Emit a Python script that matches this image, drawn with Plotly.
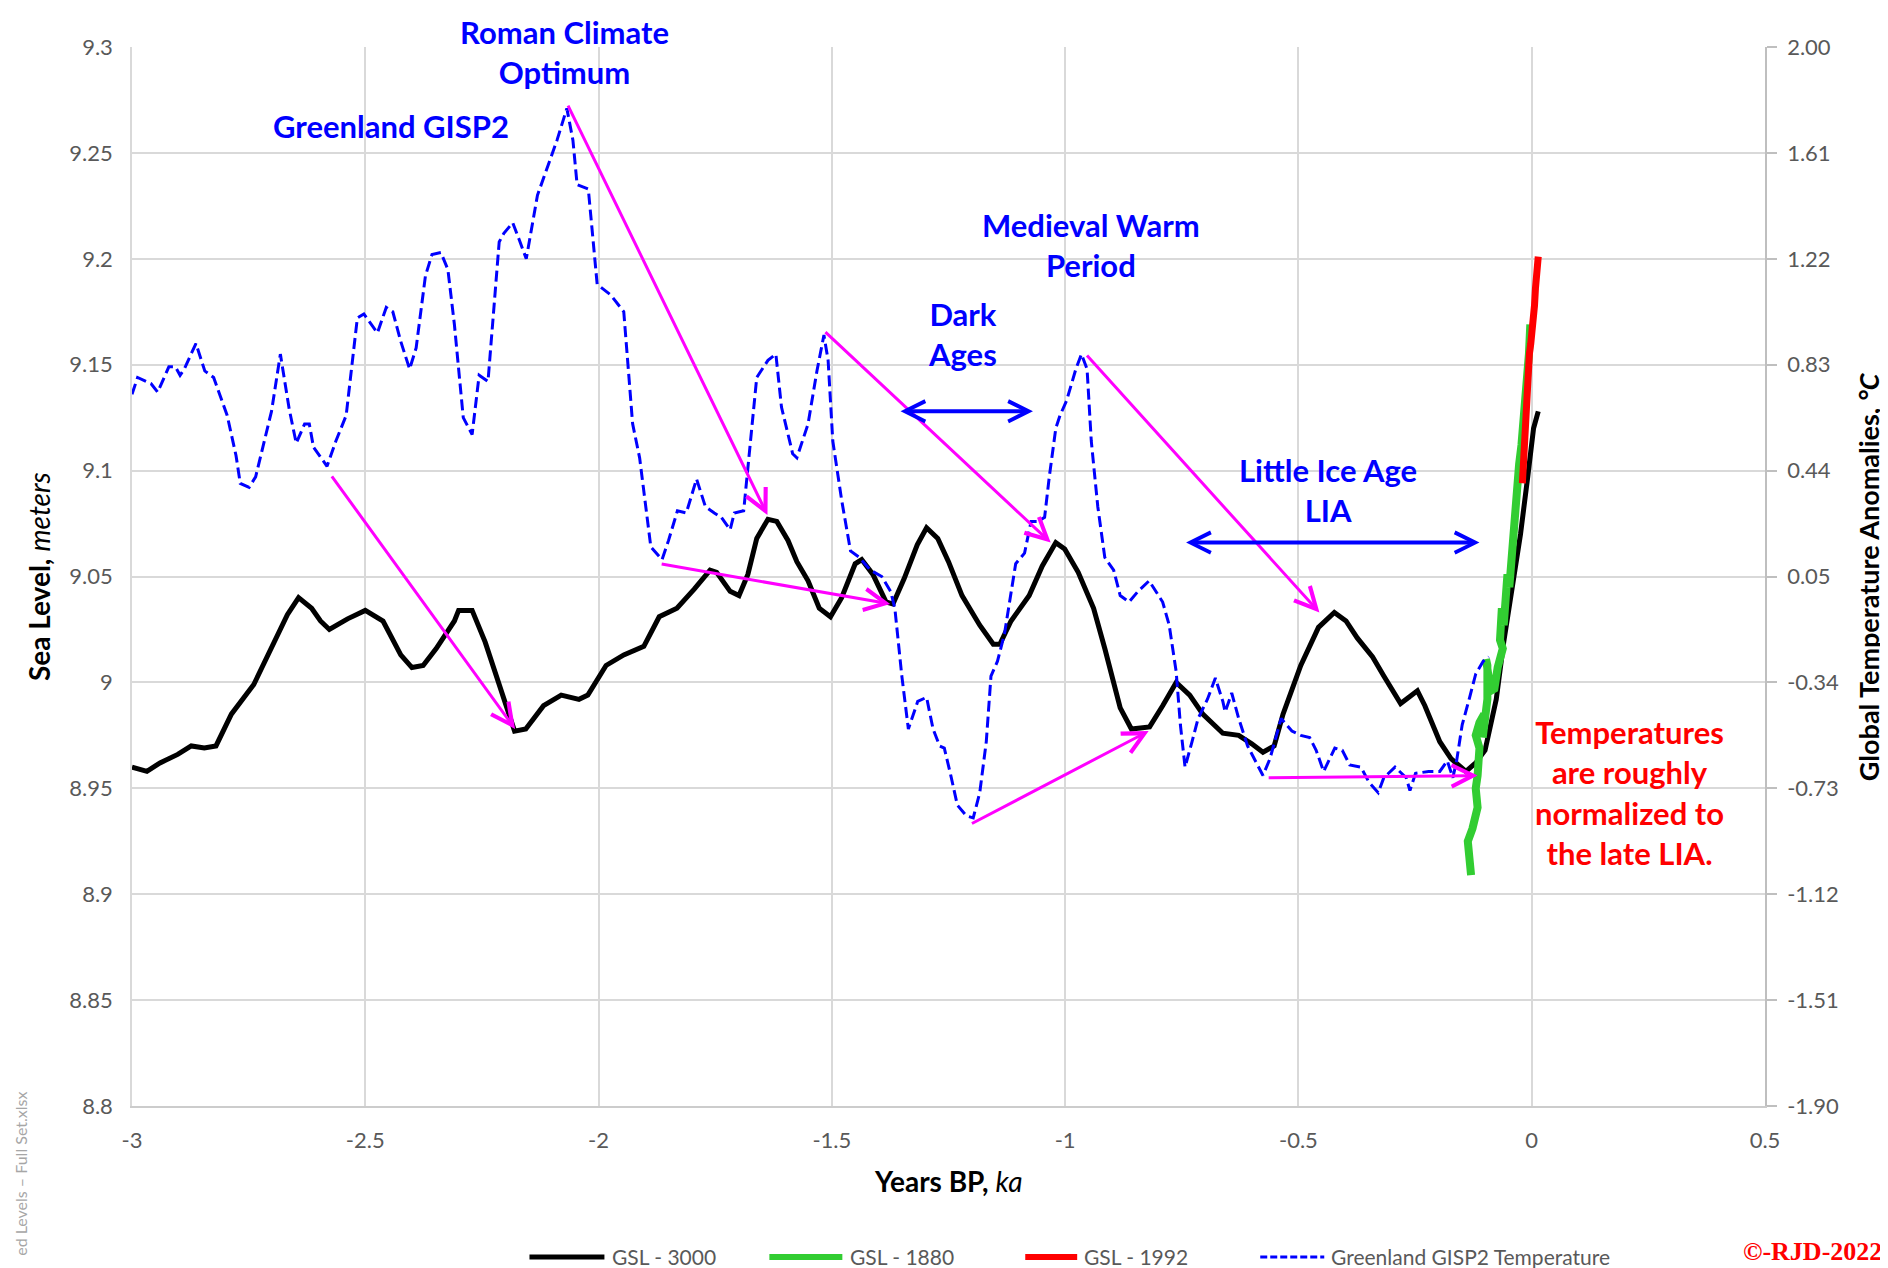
import plotly.graph_objects as go

# ---------------- data ----------------
# GSL - 3000 (sea level, m) vs years BP (ka)
gsl3000_x = [-3.000, -2.968, -2.940, -2.902, -2.873, -2.845, -2.820, -2.787, -2.739, -2.701,
             -2.667, -2.643, -2.615, -2.596, -2.577, -2.538, -2.500, -2.462, -2.424, -2.400,
             -2.376, -2.348, -2.309, -2.300, -2.271, -2.243, -2.214, -2.180, -2.156, -2.118,
             -2.080, -2.042, -2.023, -1.984, -1.946, -1.903, -1.870, -1.832, -1.795, -1.761,
             -1.747, -1.718, -1.699, -1.680, -1.661, -1.637, -1.618, -1.594, -1.575, -1.551,
             -1.527, -1.503, -1.479, -1.450, -1.436, -1.412, -1.384, -1.369, -1.345, -1.317,
             -1.297, -1.273, -1.250, -1.221, -1.183, -1.154, -1.140, -1.116, -1.077, -1.049,
             -1.020, -1.001, -0.972, -0.939, -0.915, -0.882, -0.858, -0.819, -0.791, -0.762,
             -0.733, -0.705, -0.662, -0.628, -0.600, -0.576, -0.552, -0.533, -0.495, -0.457,
             -0.423, -0.398, -0.374, -0.341, -0.317, -0.281, -0.245, -0.229, -0.197, -0.173,
             -0.141, -0.120, -0.100, -0.076, -0.060, -0.040, -0.024, -0.008, 0.004, 0.014]
gsl3000_y = [8.960, 8.958, 8.962, 8.966, 8.970, 8.969, 8.970, 8.985, 8.999, 9.016,
             9.032, 9.040, 9.035, 9.029, 9.025, 9.030, 9.034, 9.029, 9.013, 9.007,
             9.008, 9.016, 9.029, 9.034, 9.034, 9.019, 9.000, 8.977, 8.978, 8.989,
             8.994, 8.992, 8.994, 9.008, 9.013, 9.017, 9.031, 9.035, 9.044, 9.053,
             9.052, 9.043, 9.041, 9.051, 9.068, 9.077, 9.076, 9.067, 9.057, 9.048,
             9.035, 9.031, 9.040, 9.056, 9.058, 9.051, 9.038, 9.037, 9.049, 9.065,
             9.073, 9.068, 9.057, 9.041, 9.027, 9.018, 9.018, 9.029, 9.041, 9.055,
             9.066, 9.063, 9.052, 9.035, 9.016, 8.988, 8.978, 8.979, 8.989, 9.000,
             8.994, 8.985, 8.976, 8.975, 8.971, 8.967, 8.970, 8.985, 9.008, 9.026,
             9.033, 9.029, 9.021, 9.012, 9.003, 8.990, 8.996, 8.989, 8.972, 8.964,
             8.958, 8.962, 8.968, 8.992, 9.019, 9.047, 9.070, 9.098, 9.120, 9.128]

# GSL - 1880 (sea level, m)
gsl1880_x = [-0.130, -0.134, -0.137, -0.127, -0.123, -0.116, -0.120, -0.116, -0.112, -0.120,
             -0.112, -0.102, -0.105, -0.095, -0.095, -0.098, -0.088, -0.080, -0.073, -0.062,
             -0.068, -0.064, -0.060, -0.052, -0.048, -0.040, -0.036, -0.032, -0.027, -0.022,
             -0.018, -0.014, -0.010, -0.006, -0.003]
gsl1880_y = [8.909, 8.922, 8.925, 8.931, 8.937, 8.941, 8.950, 8.956, 8.969, 8.975,
             8.981, 8.985, 8.974, 8.992, 9.008, 9.011, 8.996, 8.997, 9.007, 9.016,
             9.020, 9.035, 9.027, 9.051, 9.045, 9.070, 9.083, 9.098, 9.103, 9.112,
             9.122, 9.130, 9.142, 9.155, 9.169]

# GSL - 1992 (sea level, m)
gsl1992_x = [-0.020, -0.017, -0.013, -0.011, -0.008, -0.005, -0.002, 0.001, 0.004, 0.006,
             0.008, 0.010, 0.012, 0.014]
gsl1992_y = [9.094, 9.108, 9.122, 9.135, 9.145, 9.155, 9.160, 9.165, 9.172, 9.178,
             9.186, 9.190, 9.198, 9.201]

# Greenland GISP2 temperature anomaly (deg C)
gisp2_x = [-3.000, -2.988, -2.959, -2.945, -2.921, -2.907, -2.897, -2.888, -2.863, -2.844,
           -2.825, -2.796, -2.777, -2.768, -2.749, -2.735, -2.701, -2.682, -2.663, -2.648,
           -2.630, -2.620, -2.611, -2.582, -2.563, -2.541, -2.517, -2.503, -2.474, -2.455,
           -2.441, -2.424, -2.405, -2.391, -2.371, -2.357, -2.338, -2.323, -2.309, -2.290,
           -2.271, -2.256, -2.237, -2.213, -2.203, -2.184, -2.170, -2.155, -2.131, -2.108,
           -2.089, -2.068, -2.055, -2.046, -2.022, -2.003, -1.974, -1.946, -1.927, -1.912,
           -1.888, -1.864, -1.850, -1.831, -1.812, -1.790, -1.771, -1.752, -1.737, -1.718,
           -1.709, -1.689, -1.661, -1.637, -1.620, -1.608, -1.584, -1.575, -1.551, -1.532,
           -1.517, -1.508, -1.498, -1.479, -1.460, -1.441, -1.417, -1.393, -1.374, -1.365,
           -1.350, -1.336, -1.316, -1.297, -1.283, -1.269, -1.259, -1.245, -1.231, -1.212,
           -1.197, -1.183, -1.169, -1.159, -1.145, -1.130, -1.116, -1.106, -1.087, -1.073,
           -1.058, -1.044, -1.034, -1.020, -1.011, -0.997, -0.977, -0.965, -0.953, -0.944,
           -0.930, -0.915, -0.896, -0.882, -0.863, -0.844, -0.820, -0.791, -0.777, -0.762,
           -0.753, -0.743, -0.728, -0.715, -0.695, -0.678, -0.662, -0.657, -0.643, -0.628,
           -0.609, -0.590, -0.576, -0.561, -0.537, -0.514, -0.495, -0.476, -0.462, -0.446,
           -0.422, -0.406, -0.390, -0.366, -0.349, -0.329, -0.317, -0.293, -0.269, -0.261,
           -0.249, -0.221, -0.197, -0.181, -0.169, -0.161, -0.149, -0.133, -0.120, -0.104,
           -0.092]
gisp2_t = [0.721, 0.783, 0.760, 0.729, 0.822, 0.822, 0.791, 0.814, 0.908, 0.807,
           0.783, 0.643, 0.495, 0.393, 0.378, 0.417, 0.658, 0.869, 0.666, 0.541,
           0.612, 0.612, 0.526, 0.456, 0.549, 0.643, 1.002, 1.017, 0.947, 1.041,
           1.025, 0.916, 0.814, 0.892, 1.158, 1.236, 1.243, 1.181, 0.978, 0.635,
           0.573, 0.791, 0.768, 1.282, 1.314, 1.353, 1.290, 1.220, 1.454, 1.563,
           1.657, 1.774, 1.657, 1.493, 1.477, 1.126, 1.087, 1.025, 0.612, 0.487,
           0.159, 0.112, 0.183, 0.292, 0.284, 0.409, 0.307, 0.284, 0.268, 0.222,
           0.284, 0.292, 0.783, 0.846, 0.869, 0.674, 0.502, 0.487, 0.612, 0.807,
           0.939, 0.846, 0.549, 0.331, 0.144, 0.120, 0.073, 0.050, -0.005, -0.067,
           -0.317, -0.512, -0.410, -0.395, -0.512, -0.574, -0.582, -0.683, -0.792, -0.831,
           -0.839, -0.746, -0.558, -0.317, -0.262, -0.161, -0.020, 0.097, 0.136, 0.253,
           0.253, 0.268, 0.417, 0.596, 0.643, 0.697, 0.814, 0.869, 0.814, 0.549,
           0.307, 0.120, 0.073, -0.020, -0.044, -0.005, 0.034, -0.044, -0.129, -0.301,
           -0.496, -0.652, -0.558, -0.473, -0.402, -0.324, -0.410, -0.449, -0.379, -0.473,
           -0.574, -0.636, -0.683, -0.621, -0.473, -0.519, -0.535, -0.543, -0.590, -0.668,
           -0.582, -0.590, -0.644, -0.652, -0.707, -0.746, -0.691, -0.652, -0.691, -0.738,
           -0.675, -0.668, -0.668, -0.629, -0.691, -0.629, -0.496, -0.395, -0.309, -0.262,
           -0.246]

series_names = ["GSL - 3000", "GSL - 1880", "GSL - 1992", "Greenland GISP2 Temperature"]

# axis ticks
x_tickvals = [-3, -2.5, -2, -1.5, -1, -0.5, 0, 0.5]
x_ticktext = ["-3", "-2.5", "-2", "-1.5", "-1", "-0.5", "0", "0.5"]
y_tickvals = [8.8, 8.85, 8.9, 8.95, 9.0, 9.05, 9.1, 9.15, 9.2, 9.25, 9.3]
y_ticktext = ["8.8", "8.85", "8.9", "8.95", "9", "9.05", "9.1", "9.15", "9.2", "9.25", "9.3"]
y2_tickvals = [-1.90, -1.51, -1.12, -0.73, -0.34, 0.05, 0.44, 0.83, 1.22, 1.61, 2.00]
y2_ticktext = ["-1.90", "-1.51", "-1.12", "-0.73", "-0.34", "0.05", "0.44", "0.83", "1.22", "1.61", "2.00"]

# text labels (blue period names, red note)
period_labels = ["Roman Climate<br>Optimum", "Greenland GISP2", "Medieval Warm<br>Period",
                 "Dark<br>Ages", "Little Ice Age<br>LIA"]
period_label_x = [-2.072, -2.445, -0.945, -1.219, -0.437]
period_label_y = [9.2993, 9.2611, 9.2049, 9.1629, 9.0895]
period_label_shift = [-4, 3, 3, 3, 3]
note_text = "Temperatures<br>are roughly<br>normalized to<br>the late LIA."
note_x, note_y = 0.2095, 8.9464

# magenta arrows: tail -> head (x ka, sea level m)
arrow_tail_x = [-2.574, -2.067, -1.868, -1.517, -0.956, -1.203, -0.567]
arrow_tail_y = [9.098, 9.273, 9.056, 9.166, 9.155, 8.933, 8.955]
arrow_head_x = [-2.179, -1.638, -1.375, -1.031, -0.455, -0.821, -0.116]
arrow_head_y = [8.978, 9.079, 9.037, 9.066, 9.033, 8.977, 8.956]

# blue double-headed period arrows
span_x0 = [-1.356, -0.744]
span_x1 = [-1.069, -0.112]
span_y = [9.128, 9.066]

FONT = "Lato, 'Open Sans', sans-serif"
GRAY = "#595959"
GRID = "#d9d9d9"

line_styles = [dict(color="black", width=5),
               dict(color="#32CD32", width=8),
               dict(color="#FF0000", width=7),
               dict(color="#0000FF", width=3, dash="11px,5px")]

fig = go.Figure()
fig.add_trace(go.Scatter(x=gsl3000_x, y=gsl3000_y, mode="lines", name=series_names[0],
                         line=line_styles[0], showlegend=False))
fig.add_trace(go.Scatter(x=gsl1880_x, y=gsl1880_y, mode="lines", name=series_names[1],
                         line=line_styles[1], showlegend=False))
fig.add_trace(go.Scatter(x=gsl1992_x, y=gsl1992_y, mode="lines", name=series_names[2],
                         line=line_styles[2], showlegend=False))
fig.add_trace(go.Scatter(x=gisp2_x, y=gisp2_t, mode="lines", name=series_names[3], yaxis="y2",
                         line=line_styles[3], showlegend=False))

annotations = []
for txt, ax_, ay_, ys in zip(period_labels, period_label_x, period_label_y, period_label_shift):
    annotations.append(dict(x=ax_, y=ay_, xref="x", yref="y", text="<b>" + txt + "</b>",
                            showarrow=False, font=dict(family=FONT, size=31, color="#0000FF"),
                            align="center", xanchor="center", yanchor="middle", yshift=ys))
annotations.append(dict(x=note_x, y=note_y, xref="x", yref="y", text="<b>" + note_text + "</b>",
                        showarrow=False, font=dict(family=FONT, size=31, color="#FF0000"),
                        align="center", xanchor="center", yanchor="middle", yshift=3))
for tx, ty, hx, hy in zip(arrow_tail_x, arrow_tail_y, arrow_head_x, arrow_head_y):
    annotations.append(dict(x=hx, y=hy, ax=tx, ay=ty, xref="x", yref="y", axref="x", ayref="y",
                            text="", showarrow=True, arrowhead=5, arrowsize=1.4, arrowwidth=3,
                            arrowcolor="#FF00FF", standoff=0, startstandoff=0))
for x0, x1, yy in zip(span_x0, span_x1, span_y):
    annotations.append(dict(x=x1, y=yy, ax=x0, ay=yy, xref="x", yref="y", axref="x", ayref="y",
                            text="", showarrow=True, arrowhead=5, startarrowhead=5,
                            arrowside="end+start", arrowsize=1.0, startarrowsize=1.0,
                            arrowwidth=4, arrowcolor="#0000FF", standoff=0, startstandoff=0))

# axis titles
annotations.append(dict(x=-0.0572, y=0.5, xref="paper", yref="paper", textangle=-90,
                        xanchor="center", yanchor="middle",
                        text="<b>Sea Level,</b> <i>meters</i>", showarrow=False,
                        font=dict(family=FONT, size=28, color="black")))
annotations.append(dict(x=0.5, y=-0.071, xref="paper", yref="paper",
                        xanchor="center", yanchor="middle",
                        text="<b>Years BP,</b> <i>ka</i>", showarrow=False,
                        font=dict(family=FONT, size=28, color="black")))
annotations.append(dict(x=1.0635, y=0.5, xref="paper", yref="paper", textangle=-90,
                        xanchor="center", yanchor="middle",
                        text="<b>Global Temperature Anomalies, <i>°C</i></b>", showarrow=False,
                        font=dict(family=FONT, size=27, color="black")))
# copyright and file watermark
annotations.append(dict(x=1.029, y=-0.1375, xref="paper", yref="paper",
                        xanchor="center", yanchor="middle",
                        text="<b>©-RJD-2022</b>", showarrow=False,
                        font=dict(family="'Liberation Serif', 'Times New Roman', serif", size=26,
                                  color="#FF0000")))
annotations.append(dict(x=-0.0683, y=-0.0636, xref="paper", yref="paper", textangle=-90,
                        xanchor="center", yanchor="middle",
                        text="ed Levels – Full Set.xlsx", showarrow=False,
                        font=dict(family=FONT, size=16, color="#a6a6a6")))

# manual legend row (line samples + labels), paper coordinates
legend_y = -0.1425
legend_line_x0 = [0.2434, 0.3903, 0.5470, 0.6909]
legend_line_x1 = [0.2893, 0.4350, 0.5788, 0.7301]
legend_text_x = [0.2925, 0.4386, 0.5819, 0.7331]
shapes = []
for x0, x1, tx, st, nm in zip(legend_line_x0, legend_line_x1, legend_text_x, line_styles, series_names):
    ln = dict(color=st["color"], width=min(st["width"], 6))
    if "dash" in st:
        ln["dash"] = "7px,3px"
    shapes.append(dict(type="line", xref="paper", yref="paper", x0=x0, x1=x1,
                       y0=legend_y, y1=legend_y, line=ln))
    annotations.append(dict(x=tx, y=legend_y, xref="paper", yref="paper", text=nm,
                            showarrow=False, xanchor="left", yanchor="middle",
                            font=dict(family=FONT, size=21, color=GRAY)))

fig.update_layout(
    width=1888, height=1268,
    margin=dict(l=123.5, r=131, t=38.6, b=170.4, autoexpand=False),
    paper_bgcolor="white", plot_bgcolor="white",
    font=dict(family=FONT, size=22, color=GRAY),
    showlegend=False,
    annotations=annotations,
    shapes=shapes,
    xaxis=dict(range=[-3, 0.5], tickvals=x_tickvals, ticktext=x_ticktext, showgrid=True,
               gridcolor=GRID, gridwidth=1.5, zeroline=False, showline=True,
               linecolor="#cccccc", linewidth=2, mirror=False, ticks="",
               ticklabelstandoff=14, tickfont=dict(family=FONT, size=22, color=GRAY)),
    yaxis=dict(range=[8.8, 9.3], tickvals=y_tickvals, ticktext=y_ticktext, showgrid=True,
               gridcolor=GRID, gridwidth=1.5, zeroline=False, showline=True,
               linecolor=GRID, linewidth=1.5, ticks="", ticklabelstandoff=13,
               tickfont=dict(family=FONT, size=22, color=GRAY)),
    yaxis2=dict(range=[-1.9, 2.0], tickvals=y2_tickvals, ticktext=y2_ticktext, overlaying="y",
                side="right", showgrid=False, zeroline=False, showline=True,
                linecolor="#bfbfbf", linewidth=1.5, ticks="outside", ticklen=10,
                tickcolor="#bfbfbf", tickwidth=1.5, ticklabelstandoff=6,
                tickfont=dict(family=FONT, size=22, color=GRAY)),
)

fig.write_html("out.html")
